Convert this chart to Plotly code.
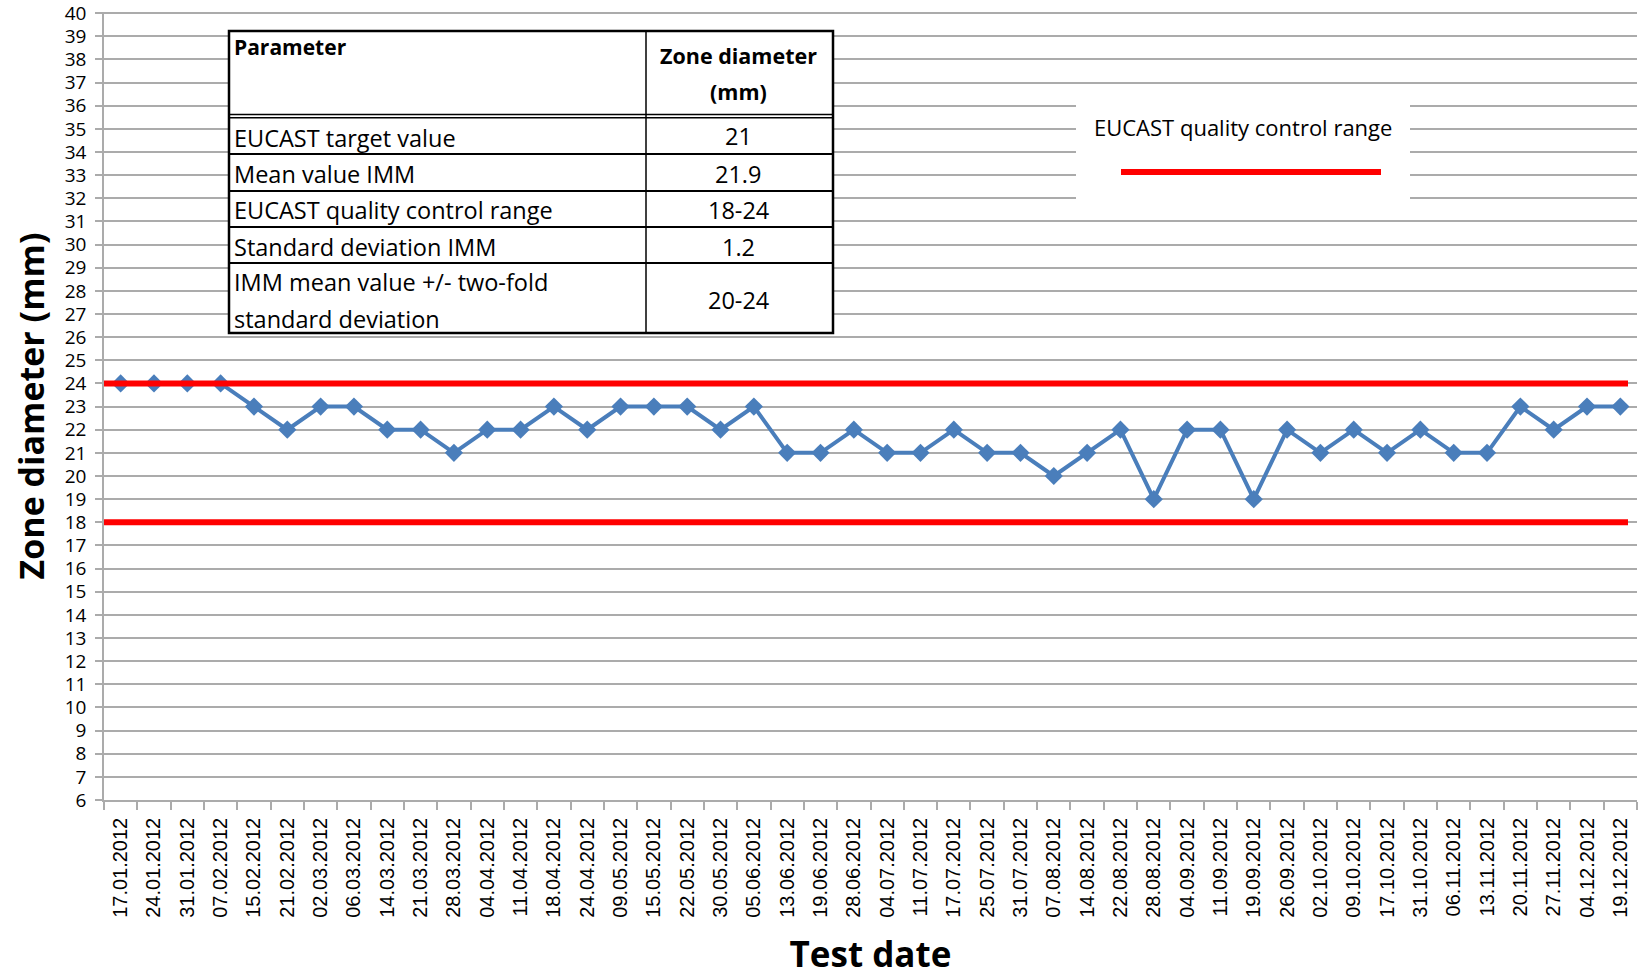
import plotly.graph_objects as go

# ---------------- data ----------------
dates = ["17.01.2012", "24.01.2012", "31.01.2012", "07.02.2012", "15.02.2012", "21.02.2012",
         "02.03.2012", "06.03.2012", "14.03.2012", "21.03.2012", "28.03.2012", "04.04.2012",
         "11.04.2012", "18.04.2012", "24.04.2012", "09.05.2012", "15.05.2012", "22.05.2012",
         "30.05.2012", "05.06.2012", "13.06.2012", "19.06.2012", "28.06.2012", "04.07.2012",
         "11.07.2012", "17.07.2012", "25.07.2012", "31.07.2012", "07.08.2012", "14.08.2012",
         "22.08.2012", "28.08.2012", "04.09.2012", "11.09.2012", "19.09.2012", "26.09.2012",
         "02.10.2012", "09.10.2012", "17.10.2012", "31.10.2012", "06.11.2012", "13.11.2012",
         "20.11.2012", "27.11.2012", "04.12.2012", "19.12.2012"]
zone_diameter = [24, 24, 24, 24, 23, 22, 23, 23, 22, 22, 21, 22, 22, 23, 22, 23, 23, 23,
                 22, 23, 21, 21, 22, 21, 21, 22, 21, 21, 20, 21, 22, 19, 22, 22, 19, 22,
                 21, 22, 21, 22, 21, 21, 23, 22, 23, 23]
qc_range = [18, 24]
qc_label = "EUCAST quality control range"
y_min, y_max = 6, 40

table_header = ["Parameter", ["Zone diameter", "(mm)"]]
table_params = [["EUCAST target value"], ["Mean value IMM"], ["EUCAST quality control range"],
                ["Standard deviation IMM"], ["IMM mean value +/- two-fold", "standard deviation"]]
table_values = ["21", "21.9", "18-24", "1.2", "20-24"]

# ---------------- layout helpers (pixel -> paper) ----------------
W, H = 1640, 977
L, R, T, B = 104, 3, 12, 177
PW = W - L - R
PH = H - T - B
Y_PAD = 0.05  # keep the top gridline (40) inside the plotting area


def px(x):
    return (x - L) / PW


def py(y):
    return (H - B - y) / PH


GRID = "#ABABAB"
BLUE = "#4A7EBB"
RED = "#FF0000"
CAL = "'Open Sans', 'Liberation Sans', Arial, sans-serif"
ARIAL = "'Liberation Sans', Arial, sans-serif"

fig = go.Figure()
fig.add_trace(go.Scatter(
    x=dates, y=zone_diameter, mode="lines+markers",
    line=dict(color=BLUE, width=4),
    marker=dict(symbol="diamond", size=14, color=BLUE),
    showlegend=False, hoverinfo="x+y"))

shapes = []
annotations = []

# QC range lines
for v in qc_range:
    shapes.append(dict(type="line", xref="paper", yref="y", x0=0, x1=px(1628), y0=v, y1=v,
                       line=dict(color=RED, width=6), layer="above"))

# ---------------- table ----------------
tx0, tx1, tdiv = 229, 833, 646
ty0, ty1 = 31, 333
row_lines = [154, 191, 227, 263]
shapes.append(dict(type="rect", xref="paper", yref="paper", x0=px(tx0), x1=px(tx1),
                   y0=py(ty1), y1=py(ty0), fillcolor="white", line=dict(color="black", width=2.5)))
shapes.append(dict(type="line", xref="paper", yref="paper", x0=px(tdiv), x1=px(tdiv),
                   y0=py(ty1), y1=py(ty0), line=dict(color="black", width=1.5)))
for yy in (114.5, 117.8):
    shapes.append(dict(type="line", xref="paper", yref="paper", x0=px(tx0), x1=px(tx1),
                       y0=py(yy), y1=py(yy), line=dict(color="black", width=1.5)))
for yy in row_lines:
    shapes.append(dict(type="line", xref="paper", yref="paper", x0=px(tx0), x1=px(tx1),
                       y0=py(yy), y1=py(yy), line=dict(color="black", width=2)))

TFS = 23.5
annotations.append(dict(text="<b>%s</b>" % table_header[0], xref="paper", yref="paper",
                        x=px(232), y=py(47), xanchor="left", yanchor="middle", showarrow=False,
                        font=dict(family=CAL, size=21, color="black")))
for i, line in enumerate(table_header[1]):
    annotations.append(dict(text="<b>%s</b>" % line, xref="paper", yref="paper",
                            x=px(738), y=py(56 + 36 * i), xanchor="center", yanchor="middle",
                            showarrow=False, font=dict(family=CAL, size=21.5, color="black")))

row_text_y = [[138], [174], [210], [247], [282, 319]]
val_y = [136, 174, 210, 247, 300]
for lines, ys, val, vy in zip(table_params, row_text_y, table_values, val_y):
    for line, yy in zip(lines, ys):
        annotations.append(dict(text=line, xref="paper", yref="paper", x=px(232), y=py(yy),
                                xanchor="left", yanchor="middle", showarrow=False,
                                font=dict(family=CAL, size=TFS, color="black")))
    annotations.append(dict(text=val, xref="paper", yref="paper", x=px(738), y=py(vy),
                            xanchor="center", yanchor="middle", showarrow=False,
                            font=dict(family=CAL, size=TFS, color="black")))

# ---------------- legend ----------------
shapes.append(dict(type="rect", xref="paper", yref="paper", x0=px(1076), x1=px(1410),
                   y0=py(212), y1=py(92), fillcolor="white", line=dict(width=0)))
shapes.append(dict(type="line", xref="paper", yref="paper", x0=px(1121), x1=px(1381),
                   y0=py(172), y1=py(172), line=dict(color=RED, width=6)))
annotations.append(dict(text=qc_label, xref="paper", yref="paper", x=px(1243), y=py(127),
                        xanchor="center", yanchor="middle", showarrow=False,
                        font=dict(family=CAL, size=22, color="black")))

fig.update_layout(
    width=W, height=H,
    margin=dict(l=L, r=R, t=T, b=B, pad=0),
    paper_bgcolor="white", plot_bgcolor="white",
    showlegend=False,
    shapes=shapes, annotations=annotations,
    xaxis=dict(
        type="category", range=[-0.5, len(dates) - 0.5], automargin=False,
        showgrid=False, showline=True, linecolor=GRID, linewidth=1.5,
        ticks="outside", tickson="boundaries", ticklen=8, tickcolor=GRID, tickwidth=1.5,
        tickangle=-90, tickfont=dict(family=ARIAL, size=20, color="black"),
        ticklabelstandoff=8,
        title=dict(text="<b>Test date</b>", font=dict(family=CAL, size=35, color="black"),
                   standoff=26),
    ),
    yaxis=dict(
        range=[y_min, y_max + Y_PAD], dtick=1, tick0=0, automargin=False,
        showgrid=True, gridcolor=GRID, gridwidth=1.5,
        showline=True, linecolor=GRID, linewidth=1.5, zeroline=False,
        ticks="outside", ticklen=7, tickcolor=GRID, tickwidth=1.5,
        tickfont=dict(family=CAL, size=19, color="black"),
        ticklabelstandoff=5, ticklabeloverflow="allow",
        title=dict(text="<b>Zone diameter (mm)</b>", font=dict(family=CAL, size=34, color="black"),
                   standoff=10),
    ),
)

fig.write_html("out.html", config={"displayModeBar": False},
               post_script="document.body.style.margin='0';")
